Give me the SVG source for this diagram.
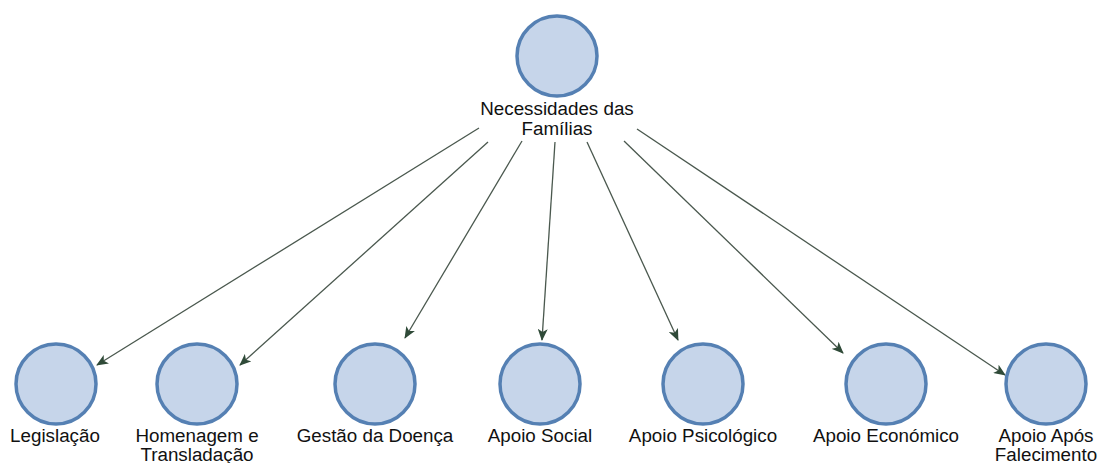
<svg xmlns="http://www.w3.org/2000/svg" width="1101" height="463" viewBox="0 0 1101 463">
<style>
.n{fill:#c6d5ea;stroke:#5580b3;stroke-width:3.5}
.t{font-family:"Liberation Sans",Arial,sans-serif;font-size:18.8px;fill:#111;text-anchor:middle}
.e{stroke:#4a584e;stroke-width:1.3;fill:none;marker-end:url(#ah)}
</style>
<defs>
<marker id="ah" viewBox="0 0 12 10" refX="11" refY="5" markerWidth="12" markerHeight="10" markerUnits="userSpaceOnUse" orient="auto">
<path d="M0,0 L12,5 L0,10 L3,5 z" fill="#2f4a38"/>
</marker>
</defs>
<rect width="1101" height="463" fill="#fff"/>
<g id="connectors">
<line class="e" x1="479" y1="128" x2="97" y2="365"/>
<line class="e" x1="488" y1="142" x2="240" y2="365"/>
<line class="e" x1="522" y1="141" x2="405" y2="338"/>
<line class="e" x1="555" y1="142" x2="542" y2="340"/>
<line class="e" x1="587" y1="142" x2="678" y2="340"/>
<line class="e" x1="624" y1="141" x2="843" y2="353"/>
<line class="e" x1="637" y1="129" x2="1005" y2="375"/>
</g>
<g id="n0"><circle class="n" cx="557" cy="56" r="40"/><text class="t" x="557" y="115">Necessidades das</text><text class="t" x="557" y="135">Famílias</text></g>
<g id="n1"><circle class="n" cx="56" cy="384" r="40"/><text class="t" x="55" y="442">Legislação</text></g>
<g id="n2"><circle class="n" cx="197" cy="384" r="40"/><text class="t" x="197" y="442">Homenagem e</text><text class="t" x="197" y="461">Transladação</text></g>
<g id="n3"><circle class="n" cx="375" cy="384" r="40"/><text class="t" x="375" y="442">Gestão da Doença</text></g>
<g id="n4"><circle class="n" cx="540" cy="384" r="40"/><text class="t" x="540" y="442">Apoio Social</text></g>
<g id="n5"><circle class="n" cx="703" cy="384" r="40"/><text class="t" x="703" y="442">Apoio Psicológico</text></g>
<g id="n6"><circle class="n" cx="886" cy="384" r="40"/><text class="t" x="886" y="442">Apoio Económico</text></g>
<g id="n7"><circle class="n" cx="1046" cy="384" r="40"/><text class="t" x="1046" y="442">Apoio Após</text><text class="t" x="1046" y="461">Falecimento</text></g>
</svg>
